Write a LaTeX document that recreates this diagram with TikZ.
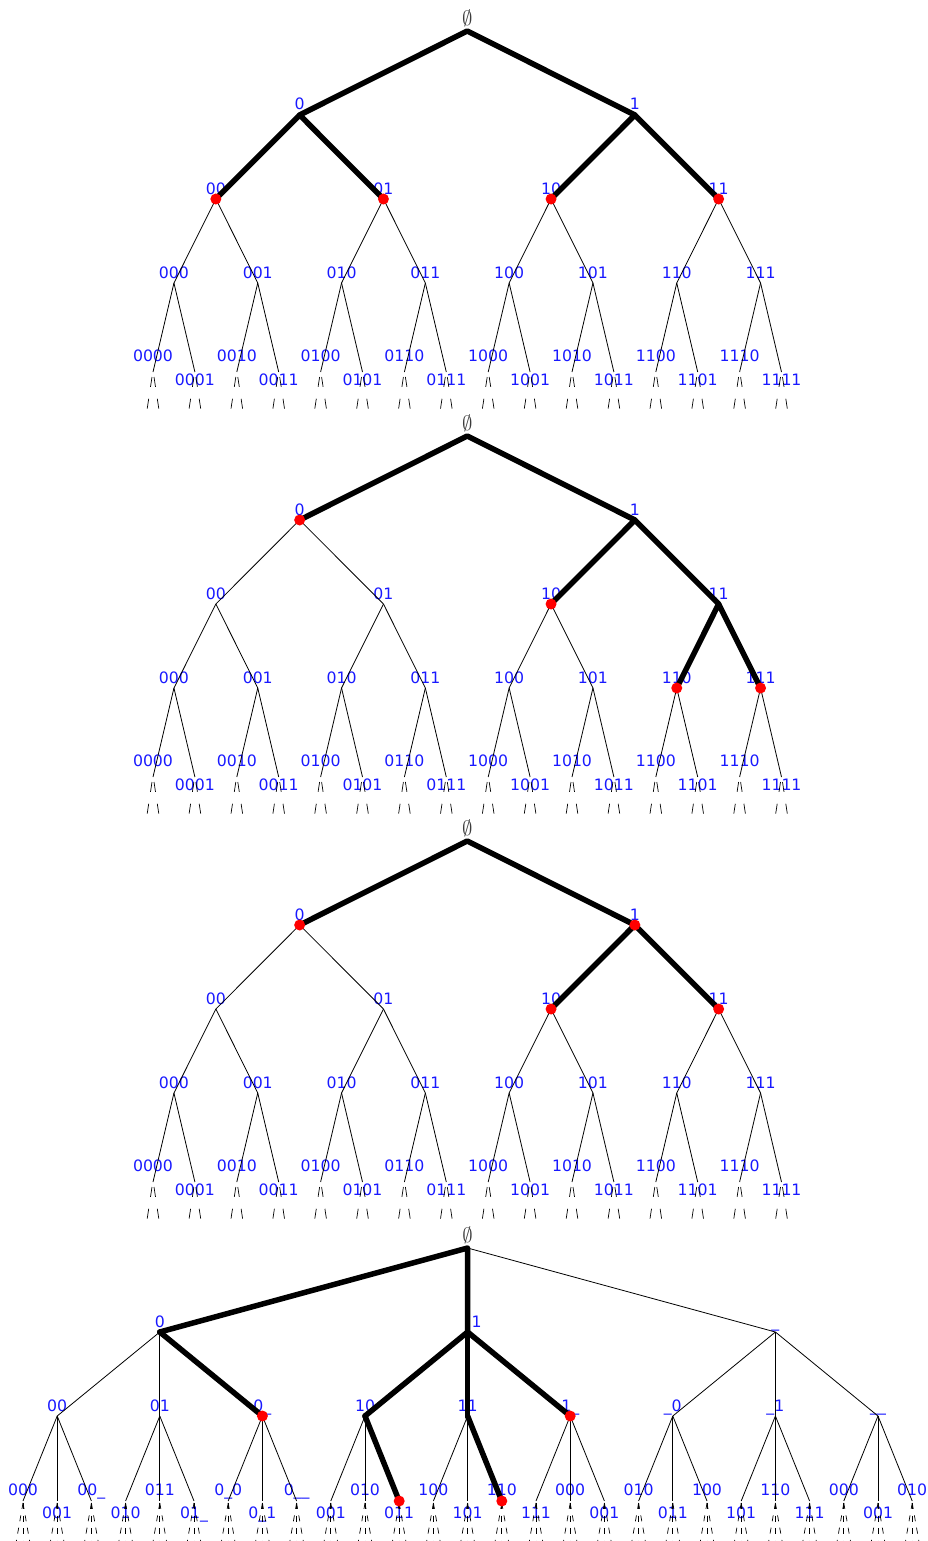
\documentclass[tikz,border=0pt]{standalone}
\usepackage{fontspec}
\setmainfont{DejaVu Sans}
\definecolor{labelblue}{RGB}{25,25,255}
\definecolor{rootgray}{RGB}{60,60,60}
\pgfdeclarelayer{labels}
\pgfsetlayers{labels,main}
\tikzset{
  edge/.style={line width=0.8pt},
  hot/.style={line width=5.5pt, line cap=round, line join=round},
  tail/.style={line width=0.7pt, dash pattern=on 10pt off 12pt},
  ttail/.style={line width=0.7pt, dash pattern=on 6pt off 6.5pt},
  lbl/.style={text=labelblue, font=\fontsize{15.7}{16}\selectfont, inner sep=0pt, anchor=base},
  rootlbl/.style={text=rootgray, inner sep=0pt, anchor=south, font=\fontsize{20}{24}\selectfont},
  hit/.style={fill=red, circle, inner sep=0pt, minimum size=11pt}
}
% one level of a binary tree: prefix, root y, level, labels
\newcommand\binlevel[4]{%
  \foreach \lab [count=\i from 0] in {#4} {%
    \pgfmathsetmacro\bx{153+41.9*(\i*2^(4-#3)+(2^(4-#3)-1)/2)}%
    \pgfmathsetmacro\by{#3==4 ? #2+341 : #2+84*#3}%
    \pgfmathtruncatemacro\pidx{floor(\i/2)}%
    \pgfmathtruncatemacro\plev{#3-1}%
    \coordinate (#1-#3-\i) at (\bx,\by);
    \draw[edge] (#1-\plev-\pidx) -- (#1-#3-\i);
    \ifnum#3=4
      \begin{pgfonlayer}{labels}
      \ifodd\i
        \node[lbl,yshift=-13pt] (#1-#3-\i-t) at (#1-#3-\i) {\lab};
      \else
        \node[lbl,yshift=11pt] (#1-#3-\i-t) at (#1-#3-\i) {\lab};
      \fi
      \end{pgfonlayer}
      \coordinate (#1-#3-\i-sl) at ([xshift=-1pt,yshift=-5pt]#1-#3-\i);
      \coordinate (#1-#3-\i-sr) at ([xshift=1pt,yshift=-5pt]#1-#3-\i);
      \coordinate (#1-#3-\i-l) at ([xshift=-6pt,yshift=-38pt]#1-#3-\i);
      \coordinate (#1-#3-\i-r) at ([xshift=6pt,yshift=-38pt]#1-#3-\i);
      \draw[tail] (#1-#3-\i-sl) -- (#1-#3-\i-l);
      \draw[tail] (#1-#3-\i-sr) -- (#1-#3-\i-r);
    \else
      \begin{pgfonlayer}{labels}
      \node[lbl,yshift=5pt] (#1-#3-\i-t) at (#1-#3-\i) {\lab};
      \end{pgfonlayer}
    \fi
  }%
}
\newcommand\bintree[2]{%
  \coordinate (#1-0-0) at (467.3,#2);
  \node[rootlbl,yshift=4pt] (#1-0-0-t) at (#1-0-0) {$\emptyset$};
  \binlevel{#1}{#2}{1}{0,1}
  \binlevel{#1}{#2}{2}{00,01,10,11}
  \binlevel{#1}{#2}{3}{000,001,010,011,100,101,110,111}
  \binlevel{#1}{#2}{4}{0000,0001,0010,0011,0100,0101,0110,0111,1000,1001,1010,1011,1100,1101,1110,1111}
}
% one level of the ternary tree: prefix, root y, level, labels
\newcommand\terlevel[4]{%
  \foreach \lab [count=\i from 0] in {#4} {%
    \pgfmathsetmacro\bx{23+34.2*(\i*3^(3-#3)+(3^(3-#3)-1)/2)}%
    \pgfmathsetmacro\by{#3==3 ? #2+253 : #2+84*#3}%
    \pgfmathtruncatemacro\pidx{floor(\i/3)}%
    \pgfmathtruncatemacro\plev{#3-1}%
    \coordinate (#1-#3-\i) at (\bx,\by);
    \draw[edge] (#1-\plev-\pidx) -- (#1-#3-\i);
    \ifnum#3=3
      \begin{pgfonlayer}{labels}
      \ifodd\i
        \node[lbl,yshift=-17.7pt] (#1-#3-\i-t) at (#1-#3-\i) {\lab};
      \else
        \node[lbl,yshift=5.3pt] (#1-#3-\i-t) at (#1-#3-\i) {\lab};
      \fi
      \end{pgfonlayer}
      \coordinate (#1-#3-\i-s) at ([yshift=-2pt]#1-#3-\i);
      \coordinate (#1-#3-\i-l) at ([xshift=-7pt,yshift=-42pt]#1-#3-\i);
      \coordinate (#1-#3-\i-m) at ([yshift=-42pt]#1-#3-\i);
      \coordinate (#1-#3-\i-r) at ([xshift=7pt,yshift=-42pt]#1-#3-\i);
      \draw[ttail] (#1-#3-\i-s) -- (#1-#3-\i-l);
      \draw[ttail] (#1-#3-\i-s) -- (#1-#3-\i-m);
      \draw[ttail] (#1-#3-\i-s) -- (#1-#3-\i-r);
    \else
      \begin{pgfonlayer}{labels}
      \ifnum#3=1 \ifnum\i=1
        \node[lbl,yshift=5pt,xshift=9pt] (#1-#3-\i-t) at (#1-#3-\i) {\lab};
      \else
        \node[lbl,yshift=5pt] (#1-#3-\i-t) at (#1-#3-\i) {\lab};
      \fi\else
        \node[lbl,yshift=5pt] (#1-#3-\i-t) at (#1-#3-\i) {\lab};
      \fi
      \end{pgfonlayer}
    \fi
  }%
}
\begin{document}
\begin{tikzpicture}[x=1pt,y=-1pt]
\useasboundingbox (0,0) rectangle (928,1541);

% three binary trees
\bintree{a}{31}
\bintree{b}{436}
\bintree{c}{841}

% ternary tree with the blank symbol
\coordinate (q-0-0) at (467.6,1248);
\node[rootlbl,yshift=4pt] (q-0-0-t) at (q-0-0) {$\emptyset$};
\terlevel{q}{1248}{1}{0,1,\_}
\terlevel{q}{1248}{2}{00,01,0\_,10,11,1\_,\_0,\_1,\_\_}
\terlevel{q}{1248}{3}{000,001,00\_,010,011,01\_,0\_0,0\_1,0\_\_,001,010,011,100,101,110,111,000,001,010,011,100,101,110,111,000,001,010}

% highlighted paths
\draw[hot] (a-1-0) -- (a-0-0) -- (a-1-1);
\draw[hot] (a-2-0) -- (a-1-0) -- (a-2-1);
\draw[hot] (a-2-2) -- (a-1-1) -- (a-2-3);
\foreach \k in {0,...,3} \node[hit] (a-d\k) at (a-2-\k) {};

\draw[hot] (b-1-0) -- (b-0-0) -- (b-1-1);
\draw[hot] (b-2-2) -- (b-1-1) -- (b-2-3);
\draw[hot] (b-3-6) -- (b-2-3) -- (b-3-7);
\node[hit] (b-d0) at (b-1-0) {};
\node[hit] (b-d1) at (b-2-2) {};
\node[hit] (b-d2) at (b-3-6) {};
\node[hit] (b-d3) at (b-3-7) {};

\draw[hot] (c-1-0) -- (c-0-0) -- (c-1-1);
\draw[hot] (c-2-2) -- (c-1-1) -- (c-2-3);
\node[hit] (c-d0) at (c-1-0) {};
\node[hit] (c-d1) at (c-1-1) {};
\node[hit] (c-d2) at (c-2-2) {};
\node[hit] (c-d3) at (c-2-3) {};

\draw[hot] (q-1-0) -- (q-0-0) -- (q-1-1);
\draw[hot] (q-1-0) -- (q-2-2);
\draw[hot] (q-2-3) -- (q-1-1) -- (q-2-5);
\draw[hot] (q-1-1) -- (q-2-4);
\draw[hot] (q-2-3) -- (q-3-11);
\draw[hot] (q-2-4) -- (q-3-14);
\node[hit] (q-d0) at (q-2-2) {};
\node[hit] (q-d1) at (q-2-5) {};
\node[hit] (q-d2) at (q-3-11) {};
\node[hit] (q-d3) at (q-3-14) {};
\end{tikzpicture}
\end{document}
